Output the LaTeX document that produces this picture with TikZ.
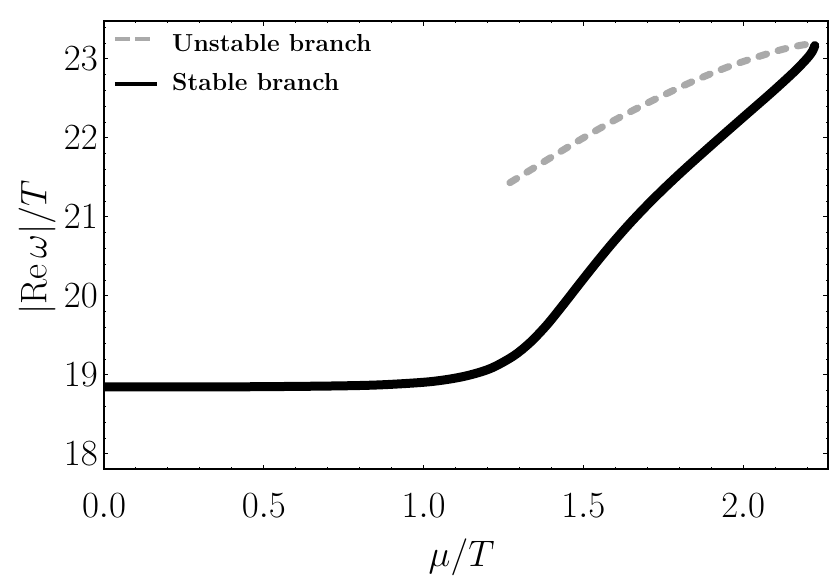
\RequirePackage{fix-cm}
\documentclass[tikz,border=0pt]{standalone}
\usepackage{amsmath, amssymb}
\usetikzlibrary{calc}
\definecolor{branchgray}{RGB}{170,170,170}

\begin{document}
\begin{tikzpicture}[x=9.588cm, y=2.37cm,
        every node/.style={font=\fontsize{31.5}{36}\selectfont, inner sep=0pt},
        stable/.style={line width=0.27cm, line cap=round, line join=round},
        unstable/.style={branchgray, line width=0.21cm, line cap=round, dash pattern=on 0.24cm off 0.36cm},
        legtext/.style={font=\fontsize{21}{24}\selectfont\bfseries, anchor=base west}]
        \useasboundingbox (-0.3254,16.405) rectangle (2.2716,23.747);
        % the two branches
        \begin{scope}
        \clip (0,17.81) rectangle (2.265,23.48);
        \draw[unstable] plot[smooth] coordinates {(1.270,21.434) (1.385,21.72) (1.495,21.99) (1.604,22.24) (1.719,22.48) (1.839,22.71) (1.959,22.91) (2.079,23.07) (2.141,23.14) (2.199,23.185) (2.224,23.17)};
        \draw[stable] plot[smooth] coordinates {(0,18.85) (0.4,18.85) (0.7,18.86) (0.864,18.875) (1.02,18.915) (1.124,18.98) (1.208,19.08) (1.281,19.24) (1.333,19.41) (1.385,19.63) (1.437,19.89) (1.489,20.16) (1.54,20.42) (1.59,20.665) (1.64,20.895) (1.69,21.11) (1.74,21.3125) (1.79,21.505) (1.84,21.69) (1.92,21.978) (2.0,22.262) (2.09,22.58) (2.16,22.84) (2.2,23.008) (2.217,23.1) (2.224,23.17)};
        \end{scope}
        % frame
        \draw[line width=1.6pt] (0,17.81) rectangle (2.265,23.48);
        \foreach \i in {1,...,22}
        \draw[shift={(\i/10,17.81)},line width=0.85pt] (0pt,0pt) -- (0pt,1.7pt);
        \foreach \i in {1,...,22}
        \draw[shift={(\i/10,23.48)},line width=0.85pt] (0pt,0pt) -- (0pt,-1.7pt);
        \foreach \x in {0.5,1,1.5,2}
        \draw[shift={(\x,17.81)},line width=0.85pt] (0pt,0pt) -- (0pt,3.8pt);
        \foreach \x in {0.5,1,1.5,2}
        \draw[shift={(\x,23.48)},line width=0.85pt] (0pt,0pt) -- (0pt,-3.8pt);
        \foreach \i in {1,...,28}
        \draw[shift={(0,17.8+\i/5)},line width=0.85pt] (0pt,0pt) -- (1.7pt,0pt);
        \foreach \i in {1,...,28}
        \draw[shift={(2.265,17.8+\i/5)},line width=0.85pt] (0pt,0pt) -- (-1.7pt,0pt);
        \foreach \y in {18,...,23}
        \draw[shift={(0,\y)},line width=0.85pt] (0pt,0pt) -- (3.8pt,0pt);
        \foreach \y in {18,...,23}
        \draw[shift={(2.265,\y)},line width=0.85pt] (0pt,0pt) -- (-3.8pt,0pt);
        % tick labels
        \foreach \x [count=\i] in {0.0,0.5,1.0,1.5,2.0}
        \node (xl\i) at (\x,17.35) {$\x$};
        \foreach \y in {18,...,23}
        \node[anchor=east] (yl\y) at (-0.0188,\y) {$\y$};
        % axis labels
        \node[anchor=base] (xlab) at (1.119,16.57) {$\mu/T$};
        \node[anchor=base,rotate=90] (ylab) at (-0.18,20.614) {$|\mathrm{Re}\,\omega|/T$};
        % legend
        \coordinate (lu1) at (0.0344,23.253);
        \coordinate (lu2) at (0.1439,23.253);
        \coordinate (ls1) at (0.0344,22.684);
        \coordinate (ls2) at (0.1658,22.684);
        \draw[branchgray, line width=0.12cm, dash pattern=on 0.45cm off 0.15cm] (lu1) -- (lu2);
        \draw[line width=0.14cm] (ls1) -- (ls2);
        \node[legtext] (unst) at (0.2128,23.101) {Unstable branch};
        \node[legtext] (stab) at (0.2128,22.595) {Stable branch};
    \end{tikzpicture}
\end{document}
